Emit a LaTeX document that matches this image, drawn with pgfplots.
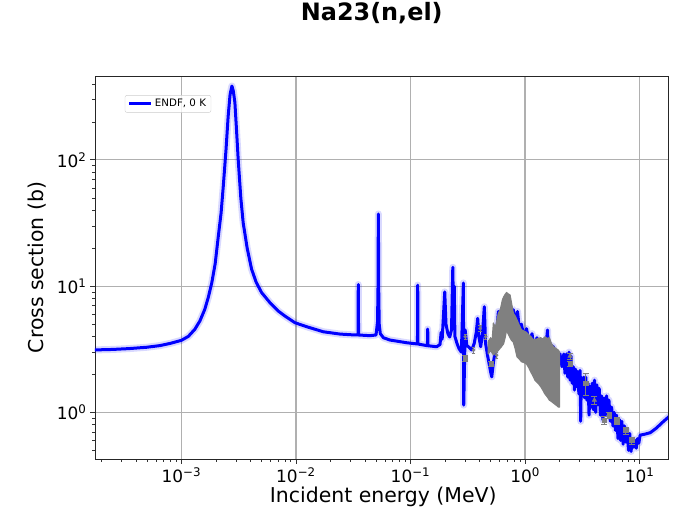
\documentclass[border=0pt]{standalone}
\usepackage{fontspec}
\setmainfont{DejaVu Sans}
\usepackage{pgfplots}
\pgfplotsset{compat=1.18}
\usepackage{pgfplotstable}
\definecolor{gridgray}{RGB}{176,176,176}
\definecolor{expgray}{RGB}{128,128,128}

\pgfplotstableread{
E sig
1.70e-4 3.12
2.5e-4 3.15
3.5e-4 3.20
5.0e-4 3.28
6.5e-4 3.38
8.0e-4 3.52
1.0e-3 3.72
1.15e-3 4.0
1.31e-3 4.55
1.45e-3 5.3
1.60e-3 6.55
1.72e-3 8.2
1.84e-3 10.6
1.97e-3 15
2.10e-3 24.9
2.22e-3 38
2.32e-3 62
2.45e-3 120
2.56e-3 223
2.66e-3 330
2.76e-3 385
2.84e-3 350
2.93e-3 284
3.03e-3 170
3.13e-3 101
3.30e-3 50
3.46e-3 31.8
3.75e-3 20
4.10e-3 13.6
4.50e-3 10.7
5.02e-3 8.87
6.0e-3 7.3
7.0e-3 6.35
8.0e-3 5.8
9.8e-3 5.13
1.24e-2 4.77
1.73e-2 4.35
2.42e-2 4.17
3.0e-2 4.12
3.48e-2 4.10
3.50e-2 10.3
3.52e-2 4.10
4.43e-2 4.05
5.0e-2 4.1
5.15e-2 5.2
5.20e-2 9
5.24e-2 37.3
5.28e-2 9
5.33e-2 5.0
5.45e-2 4.2
5.8e-2 3.9
6.62e-2 3.74
9.27e-2 3.56
0.1150 3.48
0.1156 10.2
0.1162 3.48
0.1405 3.37
0.1413 4.57
0.1421 3.37
0.169 3.31
0.181 3.45
0.185 4.3
0.189 3.8
0.199 9.0
0.204 5.0
0.212 4.2
0.220 3.95
0.228 4.5
0.234 14.1
0.237 6
0.241 10.0
0.244 4.0
0.255 3.5
0.265 3.2
0.278 3.0
0.2895 10.6
0.2915 1.14
0.300 4.5
0.310 3.4
0.343 3.12
0.360 3.52
0.375 4.3
0.386 5.56
0.395 4.0
0.410 3.31
0.425 4.2
0.441 6.87
0.452 3.52
0.470 2.84
0.500 2.1
0.512 1.91
0.530 2.5
0.550 3.12
0.585 6.3
0.620 4.6
0.660 6.0
0.700 5.2
0.740 6.2
0.790 6.5
0.830 5.2
0.860 6.3
0.900 4.2
0.930 5.0
0.980 3.9
1.03 4.6
1.09 3.5
1.15 4.2
1.21 3.1
1.27 3.9
1.33 3.0
1.40 3.5
1.46 2.7
1.52 3.3
1.57 4.49
1.62 2.4
1.68 3.4
1.77 3.3
1.84 2.2
1.92 2.8
2.02 2.9
2.10 2.3
2.18 2.9
2.23 2.04
2.30 2.9
2.36 1.9
2.42 3.0
2.47 1.8
2.52 2.8
2.58 1.7
2.64 2.3
2.70 1.5
2.76 2.2
2.82 1.6
2.88 2.1
2.95 1.4
3.02 2.15
3.06 0.85
3.10 1.9
3.18 1.35
3.25 1.9
3.32 1.3
3.39 1.9
3.46 1.25
3.55 1.7
3.62 0.95
3.70 1.6
3.78 1.1
3.86 1.7
3.95 1.05
4.04 1.8
4.14 1.0
4.24 1.65
4.34 1.15
4.44 1.55
4.55 0.95
4.66 1.35
4.78 0.87
4.90 1.3
5.02 0.95
5.15 1.35
5.28 1.0
5.40 1.25
5.55 0.85
5.70 1.1
5.85 0.78
6.00 1.0
6.15 0.72
6.30 0.95
6.48 0.62
6.65 0.88
6.82 0.6
7.00 0.85
7.18 0.56
7.38 0.78
7.58 0.58
7.78 0.72
8.00 0.5
8.20 0.68
8.42 0.49
8.65 0.62
8.88 0.53
9.10 0.60
9.35 0.52
9.60 0.62
9.85 0.57
10.1 0.66
11.0 0.67
12.4 0.69
14.0 0.75
16.0 0.84
18.4 0.94
}\endf

\pgfplotstableread{
E sig
0.478 3.62
0.50 3.9
0.515 3.6
0.529 5.1
0.55 4.7
0.585 6.1
0.61 6.6
0.635 7.8
0.65 8.2
0.67 8.6
0.69 8.9
0.71 8.7
0.74 8.5
0.765 7.2
0.79 6.1
0.82 5.8
0.85 5.4
0.89 4.9
0.93 4.5
0.98 4.4
1.03 4.3
1.08 4.1
1.12 4.0
1.17 3.8
1.22 3.74
1.30 3.85
1.37 3.9
1.43 3.8
1.49 3.97
1.56 3.85
1.63 3.9
1.70 3.5
1.78 3.3
1.87 3.2
1.96 3.1
2.00 3.0
2.00 1.1
1.96 1.1
1.87 1.14
1.78 1.18
1.70 1.22
1.63 1.25
1.56 1.33
1.49 1.4
1.43 1.5
1.37 1.6
1.30 1.7
1.22 1.8
1.17 1.95
1.12 2.1
1.08 2.25
1.03 2.42
0.98 2.48
0.93 2.52
0.89 2.65
0.85 2.76
0.82 3.2
0.79 3.6
0.765 3.7
0.74 3.9
0.71 4.2
0.69 4.5
0.67 3.9
0.65 3.5
0.62 3.3
0.585 3.1
0.55 2.95
0.529 2.85
0.50 3.1
0.478 2.9
}\expband

\begin{document}
\begin{tikzpicture}
\begin{axis}[
  at={(0,0)}, anchor=south west,
  scale only axis,
  width=573bp, height=383bp,
  xmode=log, ymode=log,
  xmin=1.76e-4, xmax=17.7,
  ymin=0.427, ymax=462,
  xtick={1e-3,1e-2,1e-1,1,10},
  xticklabels={10\textsuperscript{−3},10\textsuperscript{−2},10\textsuperscript{−1},10\textsuperscript{0},10\textsuperscript{1}},
  ytick={1,10,100},
  yticklabels={10\textsuperscript{0},10\textsuperscript{1},10\textsuperscript{2}},
  minor xtick={2e-4,3e-4,4e-4,5e-4,6e-4,7e-4,8e-4,9e-4,2e-3,3e-3,4e-3,5e-3,6e-3,7e-3,8e-3,9e-3,2e-2,3e-2,4e-2,5e-2,6e-2,7e-2,8e-2,9e-2,0.2,0.3,0.4,0.5,0.6,0.7,0.8,0.9,2,3,4,5,6,7,8,9},
  minor ytick={0.5,0.6,0.7,0.8,0.9,2,3,4,5,6,7,8,9,20,30,40,50,60,70,80,90,200,300,400},
  tick align=outside,
  xtick pos=bottom, ytick pos=left,
  major tick length=5bp, minor tick length=3bp,
  tick style={black!80, line width=0.8bp},
  minor tick style={black!80, line width=0.6bp},
  grid=major,
  major grid style={gridgray, line width=1.2bp},
  axis line style={black!85, line width=0.9bp},
  ticklabel style={font=\fontsize{17}{20}\selectfont},
  xlabel={Incident energy (MeV)},
  ylabel={Cross section (b)},
  label style={font=\fontsize{20.5}{24}\selectfont},
  xlabel style={at={(axis description cs:0.503,-0.099)}, anchor=center},
  ylabel style={at={(axis description cs:-0.101,0.5)}, anchor=center, rotate=0},
  title={\bfseries Na23(n,el)},
  title style={at={(axis description cs:0.483,1.149)}, anchor=center, font=\fontsize{24}{28}\selectfont},
  legend style={at={(axis description cs:0.052,0.950)}, anchor=north west,
    draw=black!20, rounded corners=2bp, fill=white, fill opacity=0.8, text opacity=1,
    font=\fontsize{10.3}{12}\selectfont, inner xsep=3bp, inner ysep=2bp},
  legend image code/.code={\draw[#1] (0bp,0bp) -- (22bp,0bp);},
  legend cell align=left,
]
\addplot[blue, opacity=0.15, line width=7bp, line join=round, forget plot] table[x=E,y=sig] {\endf};
\addplot[blue, line width=3bp, line join=round] table[x=E,y=sig] {\endf};
\addlegendentry{ENDF, 0 K}
\addplot[fill=expgray, draw=expgray, line width=1.2bp, line join=round, forget plot] table[x=E,y=sig] {\expband} -- cycle;
\addplot[only marks, mark=*, mark size=1.6bp, expgray, forget plot,
  error bars/.cd, y dir=both, y explicit relative,
  error bar style={expgray, line width=0.8bp}] table[x=E,y=sig,y error=err] {
E sig err
0.300 3.97 0.05
0.355 3.12 0.05
0.405 4.63 0.05
0.453 3.97 0.05
0.495 3.52 0.05
0.565 2.84 0.05
};
\addplot[only marks, mark=square*, mark size=2.2bp, expgray, forget plot,
  error bars/.cd, y dir=both, y explicit relative,
  error bar style={expgray, line width=0.8bp}, error mark options={rotate=90, mark size=3bp, expgray}] table[x=E,y=sig,y error=err] {
E sig err
0.300 2.68 0.05
0.505 2.44 0.05
2.47 2.44 0.05
3.39 1.70 0.20
4.90 0.87 0.08
5.45 0.95 0.06
6.32 0.86 0.06
7.58 0.72 0.06
8.56 0.60 0.06
};
\addplot[only marks, mark=triangle*, mark size=2.6bp, expgray, forget plot,
  error bars/.cd, y dir=both, y explicit relative,
  error bar style={expgray, line width=0.8bp}, error mark options={rotate=90, mark size=3bp, expgray}] table[x=E,y=sig,y error=err] {
E sig err
2.47 2.79 0.06
4.03 1.25 0.08
};
\end{axis}
\pgfresetboundingbox
\path[use as bounding box] (-95bp,-54bp) rectangle (578bp,459bp);
\end{tikzpicture}
\end{document}
